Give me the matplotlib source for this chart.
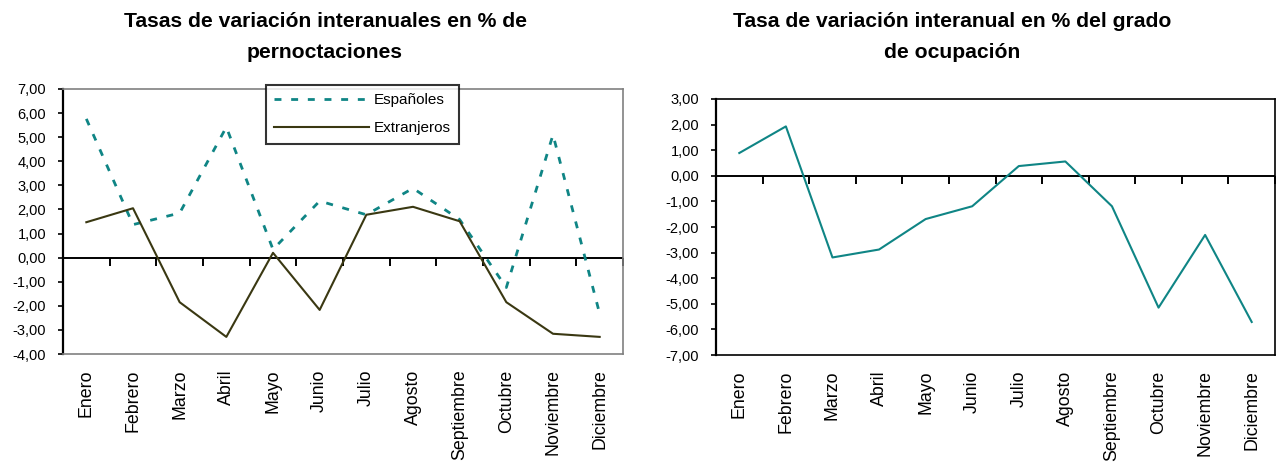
import matplotlib
matplotlib.use("Agg")
import matplotlib.pyplot as plt
from matplotlib.ticker import FuncFormatter
from matplotlib.markers import TICKDOWN

plt.rcParams['font.family'] = ['Liberation Sans', 'DejaVu Sans']

meses = ["Enero", "Febrero", "Marzo", "Abril", "Mayo", "Junio", "Julio",
         "Agosto", "Septiembre", "Octubre", "Noviembre", "Diciembre"]
espanoles = [5.76, 1.37, 1.85, 5.42, 0.34, 2.35, 1.78, 2.88, 1.58, -1.24, 5.10, -2.33]
extranjeros = [1.47, 2.05, -1.85, -3.29, 0.20, -2.17, 1.78, 2.11, 1.51, -1.85, -3.16, -3.29]
ocupacion = [0.89, 1.93, -3.19, -2.88, -1.69, -1.19, 0.38, 0.56, -1.19, -5.15, -2.31, -5.71]

teal = '#0f8585'
olive = '#3a3812'

W, H = 1276, 465
fig = plt.figure(figsize=(W / 100, H / 100), dpi=100)

def ax_rect(x0, x1, y0, y1):
    return [x0 / W, 1 - y1 / H, (x1 - x0) / W, (y1 - y0) / H]

fmt = FuncFormatter(lambda v, p: f"{v:.2f}".replace('.', ','))

def style(ax, ymin, ymax, frame_color):
    n = len(meses)
    x = list(range(n))
    ax.set_xlim(-0.5, n - 0.5)
    ax.set_ylim(ymin, ymax)
    ax.set_yticks(range(ymin, ymax + 1))
    ax.yaxis.set_major_formatter(fmt)
    ax.tick_params(axis='y', direction='out', length=3.6, width=1.2, labelsize=10.5, pad=8.5, colors='black')
    ax.set_xticks(x)
    ax.set_xticklabels(meses, rotation=90, fontsize=12.8)
    ax.tick_params(axis='x', length=0, pad=11)
    for s in ['top', 'right', 'bottom']:
        ax.spines[s].set_color(frame_color)
        ax.spines[s].set_linewidth(1.2)
    ax.spines['left'].set_color('black')
    ax.spines['left'].set_linewidth(1.6)
    # zero line with category-boundary ticks
    ax.axhline(0, color='black', lw=1.4, zorder=1.5)
    bounds = [i + 0.5 for i in range(n)]
    ax.plot(bounds, [0] * n, linestyle='none', marker=TICKDOWN, markersize=6,
            markeredgewidth=1.4, color='black', clip_on=False, zorder=1.5)
    return x

# Left chart
ax1 = fig.add_axes(ax_rect(63, 623, 89, 354))
x = style(ax1, -4, 7, '#808080')
ax1.plot(x, espanoles, color=teal, lw=2.0, linestyle=(0, (2.5, 3.5)), label='Españoles')
ax1.plot(x, extranjeros, color=olive, lw=1.5, label='Extranjeros')
leg = ax1.legend(loc='upper left', bbox_to_anchor=(0.3625, 1.015), fontsize=11,
                 handlelength=6.2, frameon=True, fancybox=False, borderpad=0.55,
                 labelspacing=0.9, handletextpad=0.3, borderaxespad=0)
leg.get_frame().set_edgecolor('black')
leg.get_frame().set_linewidth(1.5)

# Right chart
ax2 = fig.add_axes(ax_rect(716, 1275, 99, 355))
x = style(ax2, -7, 3, 'black')
ax2.plot(x, ocupacion, color=teal, lw=1.5)

fig.text(325 / W, 1 - 37 / H, "Tasas de variación interanuales en % de\npernoctaciones",
         ha='center', va='center', fontsize=15.2, fontweight='bold', linespacing=1.8)
fig.text(952 / W, 1 - 37 / H, "Tasa de variación interanual en % del grado\nde ocupación",
         ha='center', va='center', fontsize=15.2, fontweight='bold', linespacing=1.8)

fig.savefig("out.png", dpi=100)
